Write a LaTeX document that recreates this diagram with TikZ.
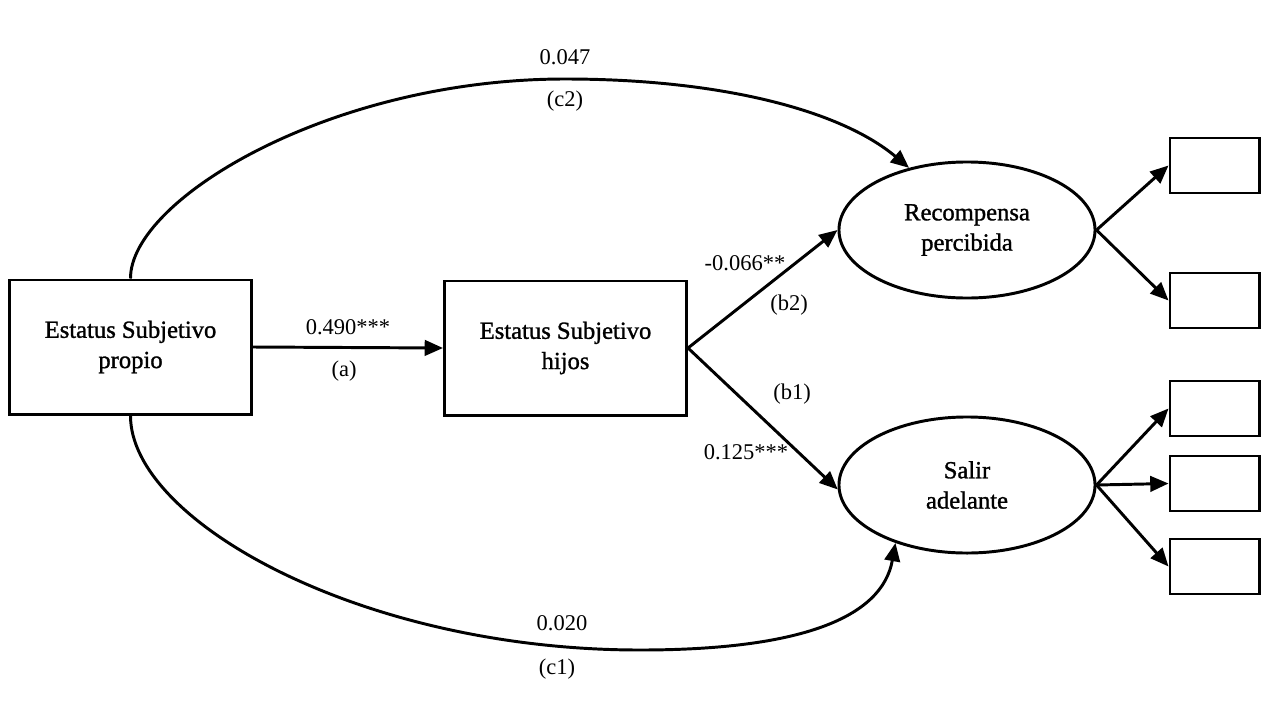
\documentclass[tikz,border=0pt]{standalone}
\usepackage{fontspec}
\setmainfont{Liberation Serif}
\newfontfamily\nodefont[FakeBold=1.2]{Liberation Serif}
\usetikzlibrary{shapes.geometric,arrows.meta}
\begin{document}
\begin{tikzpicture}[x=0.025cm,y=-0.025cm,
  lw/.style={line width=2.1pt},
  varbox/.style={draw,lw,rectangle,minimum width=6.05cm,minimum height=3.35cm,inner sep=0pt,align=center,font=\nodefont\fontsize{17.5}{21.5}\selectfont},
  latent/.style={draw,lw,ellipse,minimum width=6.4cm,minimum height=3.4cm,inner sep=0pt,align=center,font=\nodefont\fontsize{17.5}{21.5}\selectfont},
  indbox/.style={draw,lw,rectangle,minimum width=2.225cm,minimum height=1.375cm,inner sep=0pt},
  conn/.style={lw,-{Triangle[length=13pt,width=11pt]}},
  lab/.style={inner sep=0pt,font=\fontsize{16}{19}\selectfont}]
\useasboundingbox (0,0) rectangle (1268,711);
\node[varbox] (esp) at (130.5,347) {Estatus Subjetivo\\propio};
\node[varbox] (esh) at (565.5,348) {Estatus Subjetivo\\hijos};
\node[latent] (rp) at (967,230) {Recompensa\\percibida};
\node[latent] (sa) at (967,485) {Salir\\adelante};
\node[indbox] (i1) at (1214.5,165.5) {};
\node[indbox] (i2) at (1214.5,300.5) {};
\node[indbox] (i3) at (1214.5,408.5) {};
\node[indbox] (i4) at (1214.5,483.5) {};
\node[indbox] (i5) at (1214.5,566.5) {};
\draw[conn] (esp.east) -- (esh.west);
\draw[conn] (esh.east) -- (rp.west);
\draw[conn] (esh.east) -- (sa.182);
\draw[conn] (rp.east) -- (i1.west);
\draw[conn] (rp.east) -- (i2.west);
\draw[conn] (sa.east) -- (i3.west);
\draw[conn] (sa.east) -- (i4.west);
\draw[conn] (sa.east) -- (i5.west);
\draw[conn] (esp.north) .. controls (130,200) and (330,79) .. (565,79) .. controls (720,79) and (840,110) .. (rp.133);
\draw[conn] (esp.south) .. controls (130,520) and (360,650) .. (640,650) .. controls (800,650) and (882,618) .. (sa.219);
\node[lab] (la1) at (348,327) {0.490***};
\node[lab] (la2) at (344,371) {(a)};
\node[lab] (lb2a) at (745,263) {-0.066**};
\node[lab] (lb2b) at (789,305) {(b2)};
\node[lab] (lb1a) at (792,394) {(b1)};
\node[lab] (lb1b) at (746,452) {0.125***};
\node[lab] (lc2a) at (565,57) {0.047};
\node[lab] (lc2b) at (565,101) {(c2)};
\node[lab] (lc1a) at (562,623) {0.020};
\node[lab] (lc1b) at (557,669) {(c1)};
\end{tikzpicture}
\end{document}
